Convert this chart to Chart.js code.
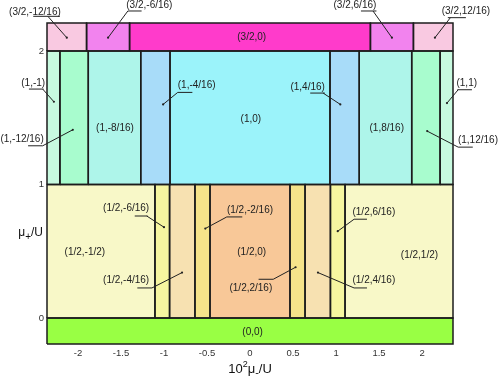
<!DOCTYPE html>
<html>
<head>
<meta charset="utf-8">
<script src="https://cdn.jsdelivr.net/npm/chart.js@4"></script>
<style>
  html, body { margin: 0; padding: 0; background: #fff; }
  #wrap { width: 498px; height: 384px; }
</style>
</head>
<body>
<div id="wrap"><canvas id="phaseChart"></canvas></div>
<script>
const FONT = '"Liberation Sans", Arial, sans-serif';

// mu_+/U limits of the rows, bottom to top
const rowLevels = [-0.195, 0, 1, 2, 2.21];

// phase boundaries along 10^2 mu_-/U, one list per row
const groundEdges = [-2.36, 2.36];
const halfEdges = [-2.36, -1.105, -0.935, -0.64, -0.465, 0.465, 0.64, 0.935, 1.105, 2.36];
const oneEdges = [-2.36, -2.21, -1.88, -1.27, -0.93, 0.93, 1.27, 1.88, 2.21, 2.36];
const threeHalfEdges = [-2.36, -1.9, -1.4, 1.4, 1.9, 2.36];

const groundPhases = ['(0,0)'];
const halfPhases = ['(1/2,-1/2)', '(1/2,-6/16)', '(1/2,-4/16)', '(1/2,-2/16)', '(1/2,0)',
    '(1/2,2/16)', '(1/2,4/16)', '(1/2,6/16)', '(1/2,1/2)'];
const onePhases = ['(1,-1)', '(1,-12/16)', '(1,-8/16)', '(1,-4/16)', '(1,0)',
    '(1,4/16)', '(1,8/16)', '(1,12/16)', '(1,1)'];
const threeHalfPhases = ['(3/2,-12/16)', '(3/2,-6/16)', '(3/2,0)', '(3/2,6/16)', '(3/2,12/16)'];

const xTicks = [-2, -1.5, -1, -0.5, 0, 0.5, 1, 1.5, 2];
const yTicks = [0, 1, 2];

// colours
const groundColors = ['#99ff44'];
const halfColors = ['#f8f8c8', '#f6f6a0', '#f7e1b1', '#f5e38a', '#f8c898',
    '#f5e38a', '#f7e1b1', '#f6f6a0', '#f8f8c8'];
const oneColors = ['#c8fae0', '#a8fcce', '#aef5ea', '#a8dcf9', '#9bf3fa',
    '#a8dcf9', '#aef5ea', '#a8fcce', '#c8fae0'];
const threeHalfColors = ['#f9c9e1', '#f283ee', '#ff3bcb', '#f283ee', '#f9c9e1'];

// where each phase name sits (data units)
const labelSpots = {
    '(0,0)': [0.03, -0.105],
    '(1/2,-1/2)': [-1.92, 0.49],
    '(1/2,-6/16)': [-1.44, 0.82],
    '(1/2,-4/16)': [-1.44, 0.28],
    '(1/2,-2/16)': [0.0, 0.81],
    '(1/2,0)': [0.02, 0.49],
    '(1/2,2/16)': [0.01, 0.22],
    '(1/2,4/16)': [1.44, 0.28],
    '(1/2,6/16)': [1.44, 0.79],
    '(1/2,1/2)': [1.97, 0.47],
    '(1,-1)': [-2.52, 1.76],
    '(1,-12/16)': [-2.65, 1.34],
    '(1,-8/16)': [-1.57, 1.42],
    '(1,-4/16)': [-0.62, 1.74],
    '(1,0)': [0.01, 1.49],
    '(1,4/16)': [0.67, 1.73],
    '(1,8/16)': [1.59, 1.42],
    '(1,12/16)': [2.65, 1.33],
    '(1,1)': [2.52, 1.76],
    '(3/2,-12/16)': [-2.50, 2.29],
    '(3/2,-6/16)': [-1.17, 2.34],
    '(3/2,0)': [0.02, 2.10],
    '(3/2,6/16)': [1.22, 2.34],
    '(3/2,12/16)': [2.51, 2.30]
};

// leader lines: underline [x0, x1, y], start x of the pointer, pointer tip
const leaders = {
    '(3/2,-12/16)': { under: [-2.52, -2.21, 2.26], from: -2.35, tip: [-2.13, 2.10] },
    '(3/2,-6/16)': { under: [-1.42, -1.26, 2.30], from: -1.42, tip: [-1.65, 2.10] },
    '(3/2,6/16)': { under: [1.29, 1.47, 2.30], from: 1.43, tip: [1.65, 2.10] },
    '(3/2,12/16)': { under: [2.30, 2.51, 2.25], from: 2.33, tip: [2.15, 2.10] },
    '(1,-1)': { under: [-2.57, -2.40, 1.715], from: -2.41, tip: [-2.28, 1.62] },
    '(1,-12/16)': { under: [-2.58, -2.41, 1.29], from: -2.41, tip: [-2.06, 1.41] },
    '(1,-4/16)': { under: [-0.84, -0.67, 1.69], from: -0.84, tip: [-1.01, 1.60] },
    '(1,4/16)': { under: [0.70, 0.87, 1.685], from: 0.85, tip: [1.05, 1.60] },
    '(1,1)': { under: [2.41, 2.58, 1.71], from: 2.42, tip: [2.29, 1.61] },
    '(1,12/16)': { under: [2.42, 2.59, 1.28], from: 2.42, tip: [2.06, 1.40] },
    '(1/2,-6/16)': { under: [-1.34, -1.19, 0.764], from: -1.20, tip: [-1.00, 0.68] },
    '(1/2,-4/16)': { under: [-1.31, -1.14, 0.225], from: -1.14, tip: [-0.79, 0.34] },
    '(1/2,-2/16)': { under: [-0.27, -0.09, 0.757], from: -0.27, tip: [-0.52, 0.67] },
    '(1/2,2/16)': { under: [0.10, 0.27, 0.29], from: 0.27, tip: [0.53, 0.38] },
    '(1/2,6/16)': { under: [1.21, 1.36, 0.74], from: 1.21, tip: [1.02, 0.65] },
    '(1/2,4/16)': { under: [1.21, 1.36, 0.225], from: 1.21, tip: [0.79, 0.34] }
};

const rows = [
    { edges: groundEdges, phases: groundPhases, colors: groundColors, lo: rowLevels[0], hi: rowLevels[1] },
    { edges: halfEdges, phases: halfPhases, colors: halfColors, lo: rowLevels[1], hi: rowLevels[2] },
    { edges: oneEdges, phases: onePhases, colors: oneColors, lo: rowLevels[2], hi: rowLevels[3] },
    { edges: threeHalfEdges, phases: threeHalfPhases, colors: threeHalfColors, lo: rowLevels[3], hi: rowLevels[4] }
];

const fills = [];
const outlines = [];
rows.forEach(row => {
    row.phases.forEach((name, i) => {
        const x0 = row.edges[i];
        const x1 = row.edges[i + 1];
        fills.push({
            label: name,
            data: [{ x: x0, y: row.hi }, { x: x1, y: row.hi }],
            showLine: true,
            fill: { value: row.lo },
            backgroundColor: row.colors[i],
            borderColor: 'transparent',
            borderWidth: 0,
            pointRadius: 0
        });
        // stepped keeps the closed rectangle path (the fast path assumes x keeps increasing)
        outlines.push({
            label: name + ' edge',
            data: [{ x: x0, y: row.lo }, { x: x0, y: row.hi }, { x: x1, y: row.hi },
                   { x: x1, y: row.lo }, { x: x0, y: row.lo }],
            showLine: true,
            stepped: true,
            fill: false,
            borderColor: '#1c1c1c',
            borderWidth: 1.5,
            pointRadius: 0,
            clip: false
        });
    });
});

// draws a short run of text with raised / lowered pieces
function drawRich(ctx, parts, x, y, align) {
    let total = 0;
    parts.forEach(p => {
        ctx.font = p.size + 'px ' + FONT;
        p.w = ctx.measureText(p.t).width;
        total += p.w;
    });
    let cx = align === 'right' ? x - total : x - total / 2;
    ctx.textAlign = 'left';
    ctx.textBaseline = 'alphabetic';
    parts.forEach(p => {
        ctx.font = p.size + 'px ' + FONT;
        ctx.fillText(p.t, cx, y + p.dy);
        cx += p.w;
    });
}

const phaseLabels = {
    id: 'phaseLabels',
    afterDatasetsDraw(chart) {
        const { ctx, scales: { x, y } } = chart;
        ctx.save();
        ctx.fillStyle = '#222';
        ctx.font = '10px ' + FONT;
        ctx.textAlign = 'center';
        ctx.textBaseline = 'middle';
        rows.forEach(row => row.phases.forEach(name => {
            const spot = labelSpots[name];
            ctx.fillText(name, x.getPixelForValue(spot[0]), y.getPixelForValue(spot[1]));
        }));

        ctx.strokeStyle = '#222';
        ctx.lineWidth = 1;
        Object.values(leaders).forEach(l => {
            const uy = y.getPixelForValue(l.under[2]);
            const tx = x.getPixelForValue(l.tip[0]);
            const ty = y.getPixelForValue(l.tip[1]);
            ctx.beginPath();
            ctx.moveTo(x.getPixelForValue(l.under[0]), uy);
            ctx.lineTo(x.getPixelForValue(l.under[1]), uy);
            ctx.moveTo(x.getPixelForValue(l.from), uy);
            ctx.lineTo(tx, ty);
            ctx.stroke();
            ctx.beginPath();
            ctx.arc(tx, ty, 1.1, 0, Math.PI * 2);
            ctx.fill();
        });
        ctx.restore();
    }
};

const axisTitles = {
    id: 'axisTitles',
    afterDraw(chart) {
        const { ctx, chartArea, scales: { y } } = chart;
        ctx.save();
        ctx.fillStyle = '#111';
        drawRich(ctx, [
            { t: '10', size: 13, dy: 0 },
            { t: '2', size: 9, dy: -6 },
            { t: 'μ', size: 13, dy: 0 },
            { t: '-', size: 11, dy: 3 },
            { t: '/U', size: 13, dy: 0 }
        ], (chartArea.left + chartArea.right) / 2, chartArea.bottom + 29, 'center');
        drawRich(ctx, [
            { t: 'μ', size: 12, dy: 0 },
            { t: '+', size: 10, dy: 4 },
            { t: '/U', size: 12, dy: 0 }
        ], chartArea.left - 4, y.getPixelForValue(0.614), 'right');
        ctx.restore();
    }
};

Chart.defaults.font.family = FONT;

new Chart(document.getElementById('phaseChart'), {
    type: 'scatter',
    // Chart.js paints the first dataset last, so the outlines go first to sit on top
    data: { datasets: outlines.concat(fills) },
    options: {
        responsive: true,
        maintainAspectRatio: false,
        animation: false,
        events: [],
        layout: { padding: { top: 23, right: 45, bottom: 0, left: 0 } },
        plugins: {
            legend: { display: false },
            tooltip: { enabled: false }
        },
        scales: {
            x: {
                type: 'linear',
                min: -2.36,
                max: 2.36,
                afterBuildTicks: scale => { scale.ticks = xTicks.map(v => ({ value: v })); },
                afterFit: scale => { scale.height = 40; },
                grid: { display: false, drawTicks: false },
                border: { display: false },
                ticks: {
                    color: '#333',
                    font: { size: 9.5 },
                    padding: 4,
                    maxRotation: 0,
                    autoSkip: false,
                    callback: v => String(v)
                }
            },
            y: {
                type: 'linear',
                min: -0.195,
                max: 2.21,
                afterBuildTicks: scale => { scale.ticks = yTicks.map(v => ({ value: v })); },
                afterFit: scale => { scale.width = 47; },
                grid: { display: false, drawTicks: false },
                border: { display: false },
                ticks: {
                    color: '#333',
                    font: { size: 9.5 },
                    padding: 3,
                    callback: v => String(v)
                }
            }
        }
    },
    plugins: [phaseLabels, axisTitles]
});
</script>
</body>
</html>
